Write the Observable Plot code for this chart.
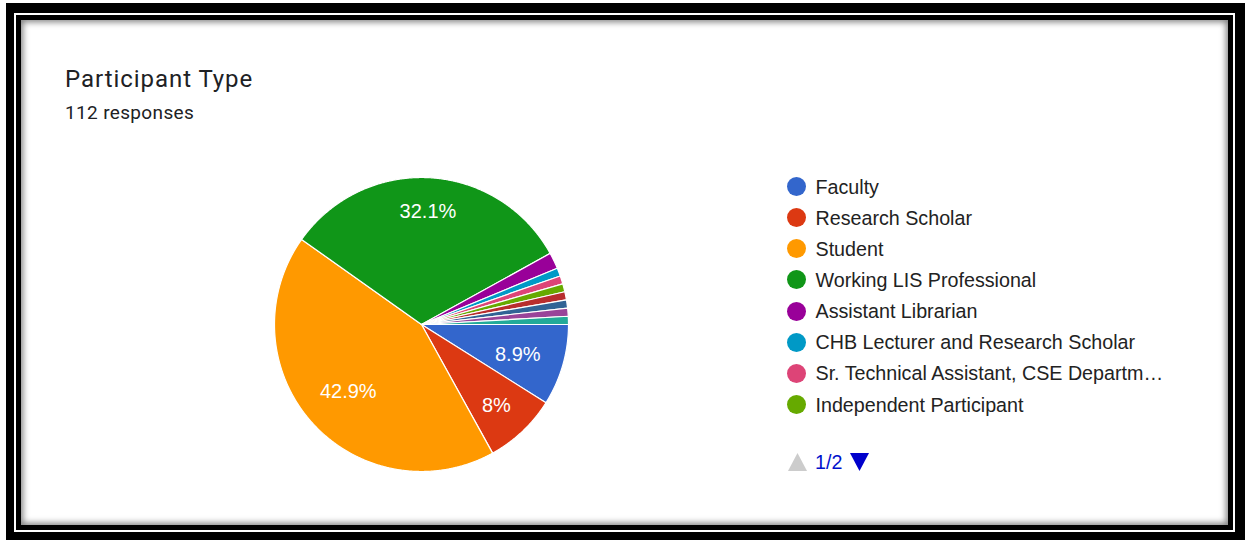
<!DOCTYPE html>
<html>
<head>
<meta charset="utf-8">
<script src="https://cdn.jsdelivr.net/npm/d3@7"></script>
<script src="https://cdn.jsdelivr.net/npm/@observablehq/plot@0.6"></script>
<style>
  html, body { margin: 0; padding: 0; width: 1245px; height: 540px; overflow: hidden; background: #fff; }
  #outer { position: absolute; left: 6px; top: 3px; width: 1239px; height: 537px; background: #000;
           box-sizing: border-box; padding: 10px 10px 8px 8px; }
  #line { background: #fff; padding: 2px; height: 100%; box-sizing: border-box; }
  #inner { background: #000; padding: 5px; height: 100%; box-sizing: border-box; }
  #content { background: #fff; height: 100%; box-shadow: inset 0 0 6px 2px rgba(0,0,0,0.5); }
  .abs { position: absolute; }
  #title { left: 65px; top: 67px; font: 400 24px/24px Roboto, sans-serif; letter-spacing: 0.95px; color: #202124; white-space: nowrap; }
  #subtitle { left: 65px; top: 103px; font: 400 19px/19px Roboto, sans-serif; letter-spacing: 0.35px; color: #202124; white-space: nowrap; }
  #pie { left: 254px; top: 157px; }
  .row { position: absolute; left: 787px; height: 20px; display: flex; align-items: center; white-space: nowrap; }
  .dot { width: 19px; height: 19px; border-radius: 50%; margin-right: 9.5px; flex: none; }
  .lab { font: 400 19.7px/20px "Liberation Sans", Arial, sans-serif; color: #222; }
  #pager { position: absolute; left: 788px; top: 452px; height: 20px; display: flex; align-items: center; }
  #pager span { font: 400 19.7px/20px "Liberation Sans", Arial, sans-serif; color: #0011cc; margin: 0 8px 0 8px; }
</style>
</head>
<body>
<div id="outer"><div id="line"><div id="inner"><div id="content"></div></div></div></div>
<div id="title" class="abs">Participant Type</div>
<div id="subtitle" class="abs">112 responses</div>
<div id="pie" class="abs"></div>
<div id="legend"></div>
<div id="pager">
  <svg width="19" height="18"><polygon points="9.5,0 19,18 0,18" fill="#cccccc"/></svg>
  <span>1/2</span>
  <svg width="19" height="18"><polygon points="0,0 19,0 9.5,18" fill="#0000cc"/></svg>
</div>
<script>
// ---- data ----
const categories = [
  "Faculty",
  "Research Scholar",
  "Student",
  "Working LIS Professional",
  "Assistant Librarian",
  "CHB Lecturer and Research Scholar",
  "Sr. Technical Assistant, CSE Departm…",
  "Independent Participant",
  "Other (page 2) 1",
  "Other (page 2) 2",
  "Other (page 2) 3",
  "Other (page 2) 4"
];
const counts = [10, 9, 48, 36, 2, 1, 1, 1, 1, 1, 1, 1];
const colors = ["#3366cc", "#dc3912", "#ff9900", "#109618", "#990099", "#0099c6",
                "#dd4477", "#66aa00", "#b82e2e", "#316395", "#994499", "#22aa99"];
const legendPageSize = 8;

// ---- geometry in data units (unit circle) ----
const total = d3.sum(counts);
const rows = categories.map((name, i) => ({name, count: counts[i]}));
const arcs = d3.pie().sort(null).value(d => d.count)
  .startAngle(Math.PI / 2).endAngle(Math.PI / 2 + 2 * Math.PI)(rows);

const points = [];
for (const a of arcs) {
  const name = a.data.name;
  points.push({name, x: 0, y: 0});
  const n = Math.max(2, Math.ceil((a.endAngle - a.startAngle) / 0.005));
  for (let k = 0; k <= n; k++) {
    const t = a.startAngle + (a.endAngle - a.startAngle) * k / n;
    points.push({name, x: Math.sin(t), y: Math.cos(t)});
  }
  points.push({name, x: 0, y: 0});
}

const radiusPx = 147;
const fontSize = 20;
const charW = ch => (ch === "." ? 0.278 : ch === "%" ? 0.889 : 0.556);
const fmt = p => (Math.round(p * 10) / 10).toString() + "%";
const labels = arcs.filter(a => a.data.count / total >= 0.05).map(a => {
  const pct = a.data.count / total * 100;
  const text = fmt(pct);
  const mid = (a.startAngle + a.endAngle) / 2;
  const w = [...text].reduce((s, c) => s + charW(c), 0) * fontSize;
  const h = 14;
  const rc = (124 - (Math.abs(Math.sin(mid)) * w / 2 + Math.abs(Math.cos(mid)) * h / 2)) / radiusPx;
  return {text, x: Math.sin(mid) * rc, y: Math.cos(mid) * rc};
});

const chart = Plot.plot({
  width: 334,
  height: 334,
  margin: 20,
  x: {domain: [-1, 1], axis: null},
  y: {domain: [-1, 1], axis: null},
  color: {domain: categories, range: colors},
  style: {background: "transparent", overflow: "visible"},
  marks: [
    Plot.line(points, {x: "x", y: "y", z: "name", fill: "name", stroke: "white",
                       strokeWidth: 1.2, strokeLinejoin: "round"}),
    Plot.text(labels, {x: "x", y: "y", text: "text", fill: "white", fontSize: fontSize,
                       dy: 2, fontFamily: "'Liberation Sans', Arial, sans-serif"})
  ]
});
document.getElementById("pie").appendChild(chart);

// ---- legend (page 1) ----
const legend = document.getElementById("legend");
categories.slice(0, legendPageSize).forEach((name, i) => {
  const row = document.createElement("div");
  row.className = "row";
  row.style.top = (186.5 - 10 + i * 31.15) + "px";
  const dot = document.createElement("div");
  dot.className = "dot";
  dot.style.background = colors[i];
  const lab = document.createElement("div");
  lab.className = "lab";
  lab.textContent = name;
  row.appendChild(dot);
  row.appendChild(lab);
  legend.appendChild(row);
});
</script>
</body>
</html>
